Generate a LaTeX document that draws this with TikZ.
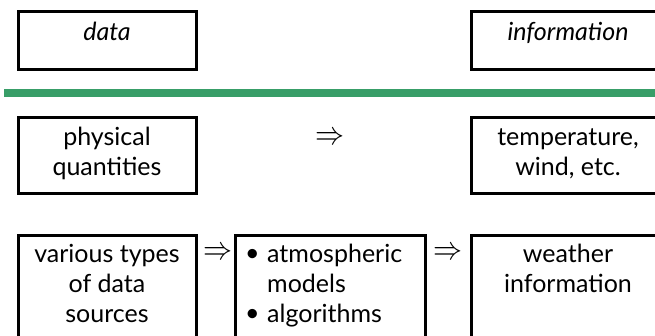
\documentclass[tikz,border=0pt]{standalone}
\usepackage{fontspec}
\setmainfont{Lato}
\definecolor{sepgreen}{RGB}{56,158,104}
\newcommand{\bul}{\makebox[22pt][l]{\raisebox{1pt}{•}}}
\newcommand{\impl}{\resizebox{29pt}{12pt}{$\Rightarrow$}}
\begin{document}
\begin{tikzpicture}[x=1pt,y=-1pt,
  box/.style={draw, line width=3pt, inner sep=0pt, outer sep=0pt, anchor=north west},
  lbl/.style={font=\fontsize{25}{30}\selectfont, align=center, anchor=base, inner sep=0pt},
  imp/.style={inner sep=0pt}]
\useasboundingbox (0,0) rectangle (655,336);
\clip (0,0) rectangle (655,336);
% boxes
\node[box, minimum width=178.5pt, minimum height=58pt] (data) at (18,12) {};
\node[box, minimum width=194pt, minimum height=58pt] (info) at (471.5,12) {};
\node[box, minimum width=178.5pt, minimum height=75.5pt] (phys) at (18,118) {};
\node[box, minimum width=194pt, minimum height=75.5pt] (temp) at (471.5,118) {};
\node[box, minimum width=178.5pt, minimum height=120pt] (src) at (18,235.5) {};
\node[box, minimum width=190pt, minimum height=120pt] (mod) at (235.5,235.5) {};
\node[box, minimum width=194pt, minimum height=120pt] (wth) at (471.5,235.5) {};
% separator
\draw[sepgreen, line width=8pt] (4.3,93.3) -- (700,93.3);
% texts (anchor base = baseline of last line)
\node[lbl] (tdata) at (107,41) {\itshape data};
\node[lbl] (tinfo) at (568,41) {\itshape information};
\node[lbl] (tphys) at (107,176) {physical\\quantities};
\node[lbl] (ttemp) at (568,176) {temperature,\\wind, etc.};
\node[lbl] (tsrc) at (107,322) {various types\\of data\\sources};
\node[lbl, anchor=base west, align=left] (tmod) at (245,322) {\bul atmospheric\\\hspace*{22pt}models\\\bul algorithms};
\node[lbl] (twth) at (568,292) {weather\\information};
% implication arrows
\node[imp] (a1) at (330,139) {\impl};
\node[imp] (a2) at (217.5,253) {\impl};
\node[imp] (a3) at (447.5,253) {\impl};
\end{tikzpicture}
\end{document}
